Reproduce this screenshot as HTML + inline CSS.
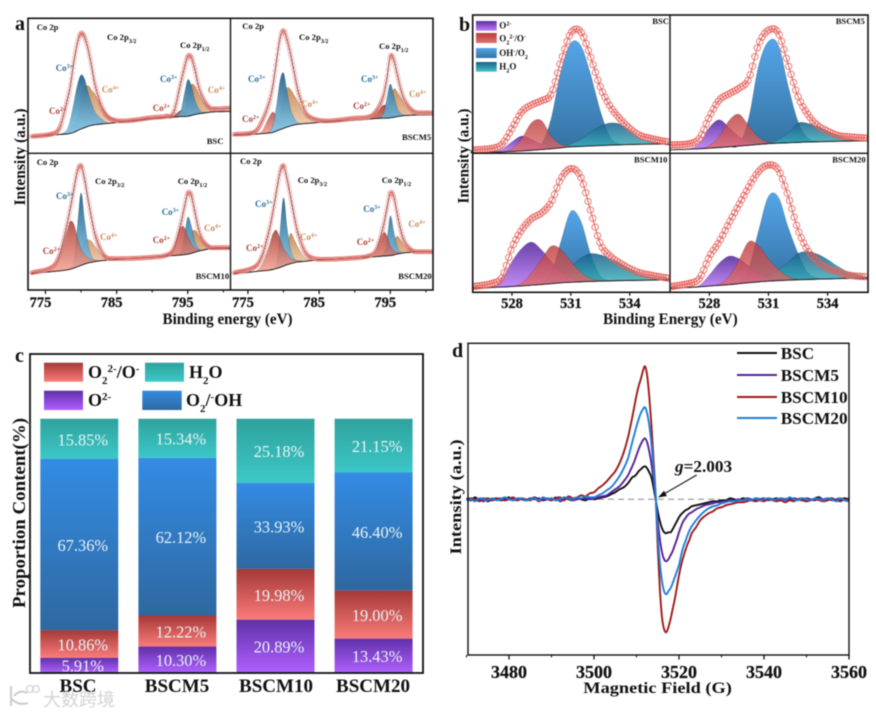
<!DOCTYPE html>
<html lang="en">
<head>
<meta charset="utf-8">
<title>XPS and EPR composite figure</title>
<style>
html,body{margin:0;padding:0;background:#fff;}
#figure{display:block;width:876px;height:715px;filter:blur(0.45px);}
text{font-family:"Liberation Serif","Noto Sans CJK SC",serif;font-weight:bold;fill:#111;}
.pl{font-size:20px;}
.cp{font-size:8.6px;}
.ion{font-size:9px;}
.blue{fill:#2f6f96;}
.tan{fill:#c98d5a;}
.red{fill:#a8453a;}
.smp{font-size:8.6px;}
.tl{font-size:14.5px;stroke:#111;stroke-width:.25px;}
.tld{font-size:18px;stroke:#111;stroke-width:.25px;}
.ttl{font-size:16px;}
.lg{font-size:9px;}
.lc{font-size:18px;}
.ld{font-size:17.2px;}
</style>
</head>
<body>
<svg id="figure" xmlns="http://www.w3.org/2000/svg" width="876" height="715" viewBox="0 0 876 715">
<defs>
<linearGradient id="gCo2" x1="0" y1="0" x2="0" y2="1"><stop offset="0" stop-color="#a83a30"/><stop offset="1" stop-color="#f8a595"/></linearGradient>
<linearGradient id="gCo3" x1="0" y1="0" x2="0" y2="1"><stop offset="0" stop-color="#1f5f8a"/><stop offset="1" stop-color="#8ad0f0"/></linearGradient>
<linearGradient id="gCo4" x1="0" y1="0" x2="0" y2="1"><stop offset="0" stop-color="#c4844c"/><stop offset="1" stop-color="#f8dcc6"/></linearGradient>
<linearGradient id="gbO2" x1="0" y1="0" x2="0" y2="1"><stop offset="0" stop-color="#5a2fa0"/><stop offset="1" stop-color="#c080f8"/></linearGradient>
<linearGradient id="gbO22" x1="0" y1="0" x2="0" y2="1"><stop offset="0" stop-color="#bd3a3a"/><stop offset="1" stop-color="#e07070"/></linearGradient>
<linearGradient id="gbOH" x1="0" y1="0" x2="0" y2="1"><stop offset="0" stop-color="#55a5ea"/><stop offset="1" stop-color="#33719f"/></linearGradient>
<linearGradient id="gbH2O" x1="0" y1="0" x2="0" y2="1"><stop offset="0" stop-color="#17608c"/><stop offset="1" stop-color="#46c4c4"/></linearGradient>
<linearGradient id="gcO2" x1="0" y1="0" x2="0" y2="1"><stop offset="0" stop-color="#5f30a8"/><stop offset="1" stop-color="#b060ff"/></linearGradient>
<linearGradient id="gcO22" x1="0" y1="0" x2="0" y2="1"><stop offset="0" stop-color="#a53838"/><stop offset="1" stop-color="#fa7c7a"/></linearGradient>
<linearGradient id="gcOH" x1="0" y1="0" x2="0" y2="1"><stop offset="0" stop-color="#338ce4"/><stop offset="1" stop-color="#2f68a0"/></linearGradient>
<linearGradient id="gcH2O" x1="0" y1="0" x2="0" y2="1"><stop offset="0" stop-color="#2fa29c"/><stop offset="1" stop-color="#3cc8c8"/></linearGradient>
</defs>
<rect width="876" height="715" fill="#fff"/>

<g id="panelA"></g>
<g id="panelB"></g>
<g id="panelC"></g>
<g id="panelD"></g>

<!-- panel letters -->
<text class="pl" x="15" y="30">a</text>
<text class="pl" x="459" y="31">b</text>
<text class="pl" x="15" y="362">c</text>
<text class="pl" x="452" y="357">d</text>

<!-- panel a titles -->
<text class="ttl" x="162.5" y="324" textLength="130" lengthAdjust="spacingAndGlyphs">Binding energy (eV)</text>
<text class="ttl" transform="translate(25,157) rotate(-90)" text-anchor="middle" textLength="97" lengthAdjust="spacingAndGlyphs">Intensity (a.u.)</text>

<!-- panel a text: BSC -->
<g>
<text class="cp" x="36.7" y="30">Co 2p</text>
<text class="cp" x="107" y="40">Co 2p<tspan font-size="6" baseline-shift="sub">3/2</tspan></text>
<text class="cp" x="180" y="48">Co 2p<tspan font-size="6" baseline-shift="sub">1/2</tspan></text>
<text class="ion blue" x="55.7" y="71">Co<tspan font-size="6" baseline-shift="super">3+</tspan></text>
<text class="ion tan" x="101.7" y="92.7">Co<tspan font-size="6" baseline-shift="super">4+</tspan></text>
<text class="ion red" x="49" y="114">Co<tspan font-size="6" baseline-shift="super">2+</tspan></text>
<text class="ion blue" x="160" y="82">Co<tspan font-size="6" baseline-shift="super">3+</tspan></text>
<text class="ion tan" x="207.7" y="93">Co<tspan font-size="6" baseline-shift="super">4+</tspan></text>
<text class="ion red" x="152.7" y="111">Co<tspan font-size="6" baseline-shift="super">2+</tspan></text>
<text class="smp" x="206.7" y="144">BSC</text>
</g>
<!-- panel a text: BSCM5 -->
<g>
<text class="cp" x="242.3" y="29">Co 2p</text>
<text class="cp" x="299" y="40">Co 2p<tspan font-size="6" baseline-shift="sub">3/2</tspan></text>
<text class="cp" x="379" y="49">Co 2p<tspan font-size="6" baseline-shift="sub">1/2</tspan></text>
<text class="ion blue" x="248" y="82">Co<tspan font-size="6" baseline-shift="super">3+</tspan></text>
<text class="ion tan" x="301" y="107">Co<tspan font-size="6" baseline-shift="super">4+</tspan></text>
<text class="ion red" x="242" y="122">Co<tspan font-size="6" baseline-shift="super">2+</tspan></text>
<text class="ion blue" x="361" y="82">Co<tspan font-size="6" baseline-shift="super">3+</tspan></text>
<text class="ion tan" x="409" y="97">Co<tspan font-size="6" baseline-shift="super">4+</tspan></text>
<text class="ion red" x="353" y="109">Co<tspan font-size="6" baseline-shift="super">2+</tspan></text>
<text class="smp" x="402" y="140">BSCM5</text>
</g>
<!-- panel a text: BSCM10 -->
<g>
<text class="cp" x="36.7" y="165">Co 2p</text>
<text class="cp" x="95" y="184">Co 2p<tspan font-size="6" baseline-shift="sub">3/2</tspan></text>
<text class="cp" x="177.7" y="184">Co 2p<tspan font-size="6" baseline-shift="sub">1/2</tspan></text>
<text class="ion blue" x="56" y="199">Co<tspan font-size="6" baseline-shift="super">3+</tspan></text>
<text class="ion tan" x="100" y="240">Co<tspan font-size="6" baseline-shift="super">4+</tspan></text>
<text class="ion red" x="42.7" y="254">Co<tspan font-size="6" baseline-shift="super">2+</tspan></text>
<text class="ion blue" x="161.7" y="215">Co<tspan font-size="6" baseline-shift="super">3+</tspan></text>
<text class="ion tan" x="204" y="231">Co<tspan font-size="6" baseline-shift="super">4+</tspan></text>
<text class="ion red" x="152.7" y="243">Co<tspan font-size="6" baseline-shift="super">2+</tspan></text>
<text class="smp" x="195.7" y="279">BSCM10</text>
</g>
<!-- panel a text: BSCM20 -->
<g>
<text class="cp" x="240" y="164">Co 2p</text>
<text class="cp" x="297.7" y="183">Co 2p<tspan font-size="6" baseline-shift="sub">3/2</tspan></text>
<text class="cp" x="381.7" y="183">Co 2p<tspan font-size="6" baseline-shift="sub">1/2</tspan></text>
<text class="ion blue" x="255" y="207">Co<tspan font-size="6" baseline-shift="super">3+</tspan></text>
<text class="ion tan" x="300" y="240">Co<tspan font-size="6" baseline-shift="super">4+</tspan></text>
<text class="ion red" x="246" y="251">Co<tspan font-size="6" baseline-shift="super">2+</tspan></text>
<text class="ion blue" x="363.3" y="212">Co<tspan font-size="6" baseline-shift="super">3+</tspan></text>
<text class="ion tan" x="408.3" y="227">Co<tspan font-size="6" baseline-shift="super">4+</tspan></text>
<text class="ion red" x="356.7" y="245">Co<tspan font-size="6" baseline-shift="super">2+</tspan></text>
<text class="smp" x="398.3" y="279">BSCM20</text>
</g>

<!-- panel b legend and titles -->
<g>
<rect x="476" y="21" width="20.7" height="9.7" fill="url(#gbO2)"/>
<rect x="476" y="33" width="20.7" height="10" fill="url(#gbO22)"/>
<rect x="476" y="48" width="20.7" height="10" fill="url(#gbOH)"/>
<rect x="476" y="62" width="20.7" height="9.7" fill="url(#gbH2O)"/>
<text class="lg" x="499.3" y="28.3">O<tspan font-size="6" baseline-shift="super">2-</tspan></text>
<text class="lg" x="499.3" y="41.7">O<tspan font-size="6" baseline-shift="sub">2</tspan><tspan font-size="6" baseline-shift="super">2-</tspan>/O<tspan font-size="6" baseline-shift="super">-</tspan></text>
<text class="lg" x="499.3" y="56">OH<tspan font-size="6" baseline-shift="super">-</tspan>/O<tspan font-size="6" baseline-shift="sub">2</tspan></text>
<text class="lg" x="499.3" y="69.3">H<tspan font-size="6" baseline-shift="sub">2</tspan>O</text>
</g>
<text class="smp" x="652.3" y="24">BSC</text>
<text class="smp" x="835.7" y="24">BSCM5</text>
<text class="smp" x="634" y="162.3">BSCM10</text>
<text class="smp" x="832.3" y="162.3">BSCM20</text>
<text class="ttl" x="603" y="324" textLength="134.7" lengthAdjust="spacingAndGlyphs">Binding Energy (eV)</text>
<text class="ttl" transform="translate(468.5,156) rotate(-90)" text-anchor="middle" textLength="95" lengthAdjust="spacingAndGlyphs">Intensity (a.u.)</text>

<!-- panel c legend and titles -->
<g>
<rect x="44" y="362.7" width="39" height="19" fill="url(#gcO22)"/>
<rect x="145" y="362.7" width="39" height="19" fill="url(#gcH2O)"/>
<rect x="44" y="390.7" width="39" height="19.3" fill="url(#gcO2)"/>
<rect x="142.3" y="390.7" width="39.4" height="19.3" fill="url(#gcOH)"/>
<text class="lc" x="88" y="378">O<tspan font-size="11" baseline-shift="sub">2</tspan><tspan font-size="11" baseline-shift="super">2-</tspan>/O<tspan font-size="11" baseline-shift="super">-</tspan></text>
<text class="lc" x="189" y="378">H<tspan font-size="11" baseline-shift="sub">2</tspan>O</text>
<text class="lc" x="88" y="406">O<tspan font-size="11" baseline-shift="super">2-</tspan></text>
<text class="lc" x="186" y="406">O<tspan font-size="11" baseline-shift="sub">2</tspan>/<tspan font-size="11" baseline-shift="super">-</tspan>OH</text>
</g>
<text class="lc" transform="translate(25,513) rotate(-90)" text-anchor="middle" textLength="190" lengthAdjust="spacingAndGlyphs">Proportion Content(%)</text>

<!-- panel d legend and annotation -->
<g>
<line x1="737" y1="353" x2="777" y2="353" stroke="#111" stroke-width="2"/>
<line x1="737" y1="375" x2="777" y2="375" stroke="#5a1f9a" stroke-width="2"/>
<line x1="737" y1="397" x2="777" y2="397" stroke="#9e1b1b" stroke-width="2"/>
<line x1="737" y1="418" x2="777" y2="418" stroke="#1f7fd8" stroke-width="2"/>
<text class="ld" x="780.7" y="359">BSC</text>
<text class="ld" x="780.7" y="381">BSCM5</text>
<text class="ld" x="780.7" y="403">BSCM10</text>
<text class="ld" x="780.7" y="424">BSCM20</text>
</g>
<text class="ld" x="675" y="472"><tspan font-style="italic">g</tspan>=2.003</text>
<line x1="696.7" y1="475" x2="661" y2="495.7" stroke="#111" stroke-width="1.1"/>
<polygon points="658,497.5 664,490.7 667,496" fill="#111"/>
<text class="ttl" x="583.3" y="693" textLength="148.5" lengthAdjust="spacingAndGlyphs" font-size="18">Magnetic Field (G)</text>
<text class="ttl" transform="translate(461,497) rotate(-90)" text-anchor="middle" textLength="115" lengthAdjust="spacingAndGlyphs">Intensity (a.u.)</text>

<!-- watermark -->
<g opacity="0.9">
<path d="M11 686 L11 706 M11 698 Q17 706 28 703 M14 696 Q20 689 27 693" fill="none" stroke="#c8c8c8" stroke-width="2"/>
<circle cx="30" cy="689" r="3.4" fill="none" stroke="#cfcfcf" stroke-width="1.3"/>
<circle cx="36" cy="689" r="3.4" fill="none" stroke="#cfcfcf" stroke-width="1.3"/>
<text x="43" y="706" font-size="18" style="fill:#d0d0d0;font-family:'Noto Sans CJK SC','Liberation Sans',sans-serif;font-weight:400;">大数跨境</text>
</g>
</svg>

<script>
// ---- Panel a data: Co 2p XPS (binding energy in eV, intensity as % of sub-panel height) ----
const aEnergy = [773,776,777,778,778.5,779,779.5,780,780.5,781,781.5,782,783,784,786,790,792,793,794,794.5,795,795.5,796,796.5,797,798,799,801];
const aTicks = [775,785,795];
const aMinorTicks = [780,790,800];
const aBscEnvelope = [12.5,14.5,19,38,50,68,82,89,86,77,64,50,33,26,24,26.5,27.5,30,52,63,72,71,62,50,42,34,33,33.5];
const aBscBackground = [12.3,13.5,14,14.3,14.8,15.5,16.8,18,19,20,20.7,21.2,21.8,22.2,23.5,25.5,26.5,26.8,27.2,27.2,27.5,28,28.7,29.3,29.6,30.4,30.8,31];
const aBscCo2 = [0,0,0,2,5,6,3,1,0,0,0,0,0,0,0,0,0,1,4.5,4,1.5,0,0,0,0,0,0,0];
const aBscCo3 = [0,0,0,3,10,22,34,40,36,25,16,9,3,0,0,0,0,0,4,16,27,22,11,4,1,0,0,0];
const aBscCo4 = [0,0,0,0,0,2,10,24,31,30,26,22,12,5,0,0,0,0,0,3,16,23,21,15,10,3,0,0];
const aBscm5Envelope = [14,16,24,38,50,68,85,91,84,73,60,47,31,26,24,26,27,31,42,55,72,69,58,47,39,32,30,30];
const aBscm5Background = [13.5,14.2,14.6,15,15.5,16.5,17.5,18.5,19.5,20.3,21,21.5,22,22.4,23.3,24.5,25.3,25.8,26,26,26.3,26.7,27.2,27.6,28,28.2,28.4,28.5];
const aBscm5Co2 = [0,0,2,12,15,11,5,1.5,0,0,0,0,0,0,0,0,0.5,4,9.5,9,4,1,0,0,0,0,0,0];
const aBscm5Co3 = [0,0,0,1,5,18,36,41,26,12,5,1,0,0,0,0,0,0,3,14,25,16,6,2,0,0,0,0];
const aBscm5Co4 = [0,0,0,0,0,1,10,24,29,27,22,17,7,2,0,0,0,0,0,3,14,21,18,13,8,2,0,0];
const aBscm10Envelope = [12.5,17,26,47,60,74,87,91,81,66,52,40,27,23,23,24,25.5,30,48,60,71,69,57,45,37,31.5,31,31];
const aBscm10Background = [12,13.5,14,14.7,15.2,16,17,18,19,19.8,20.3,20.8,21.5,22,22.8,24,24.8,25.2,25.6,25.8,26.2,26.8,27.6,28.4,29,30,30.3,30.5];
const aBscm10Co2 = [0,2,10,28,35,32,21,12,7,4,2,1,0,0,0,0,0.5,5,20,20,13,7,3,1,0,0,0,0];
const aBscm10Co3 = [0,0,0,0,1,6,30,53,32,13,4,1,0,0,0,0,0,0,2,13,27,20,8,2,0,0,0,0];
const aBscm10Co4 = [0,0,0,0,0,0,2,9,17,17,15,11,4,1,0,0,0,0,0,1,7,15,16,12,7,1,0,0];
const aBscm20Envelope = [12.5,17,25,44,57,72,86,91,81,68,54,42,28,23.5,22.5,23.5,25,29,46,59,71,68,55,43,35,29,28,28];
const aBscm20Background = [12,13.5,14,14.5,15,15.7,16.5,17.5,18.5,19.3,20,20.5,21,21.5,22.3,23.5,24,24.4,24.8,25,25.2,25.6,26.3,26.8,27.2,27.6,28,28];
const aBscm20Co2 = [0,0,5,18,26,28,21,13,8,4,2,1,0,0,0,0,0,3,17,15,7,3,1,0,0,0,0,0];
const aBscm20Co3 = [0,0,0,0,0,3,26,50,27,10,3,1,0,0,0,0,0,0,1,10,29,17,5,1,0,0,0,0];
const aBscm20Co4 = [0,0,0,0,0,0,0,3,14,22,17,11,3,0.5,0,0,0,0,0,0,4,10,13,9,5,1,0,0];

// ---- Panel b data: O 1s XPS ----
const bEnergy = [526,527,527.5,528,528.5,529,529.5,530,530.5,531,531.5,532,532.5,533,533.5,534,534.5,535,536];
const bTicks = [528,531,534];
const bBscEnvelope = [2.4,3.6,6.7,18,30,35,38,43,67,87,88,70,48,34,25,18,13,11,8];
const bBscBackground = [0.5,0.8,1,1.3,1.7,2.2,2.7,3.3,4,4.7,5,5.3,5.6,5.9,6.1,6.3,6.5,6.6,6.8];
const bBscO2 = [0,0,2,7,10.8,8,4,1.5,0.5,0,0,0,0,0,0,0,0,0,0];
const bBscO22 = [0,0,0,2,9,20,21,9,2.5,0.5,0,0,0,0,0,0,0,0,0];
const bBscOH = [0,0,0,0,0,0,4,22,56,75,73,52,25,6,1,0,0,0,0];
const bBscH2O = [0,0,0,0,0,0,0,0,0.5,2,5,10,14,16,15,10.5,5,2,0];
const bBscm5Envelope = [6,7,11,26.5,38.5,43,47,54,79,89,87,64,41,28,20,16,13,12,11];
const bBscm5Background = [2.5,3,3.3,3.7,4.2,4.7,5.2,5.8,6.4,7,7.3,7.6,7.9,8.1,8.3,8.5,8.7,8.8,9];
const bBscm5O2 = [0,0.5,4,15,20,14,7,2.5,0.5,0,0,0,0,0,0,0,0,0,0];
const bBscm5O22 = [0,0,0,2,8,19,23,14,5,1,0,0,0,0,0,0,0,0,0];
const bBscm5OH = [0,0,0,0,0,0,1,20,57,74,71,41,15,3,0.5,0,0,0,0];
const bBscm5H2O = [0,0,0,0,0,0,0,0,0,0.5,2.5,7,14,13.5,11,7.5,4,2,0];
const bBscm10Envelope = [4,6.5,11,32,45,53,57,65,82,89,83,59,35,26,21,17,14,12.5,10];
const bBscm10Background = [3,3.5,3.8,4.2,4.6,5.1,5.6,6.2,6.8,7.2,7.5,7.8,8,8.2,8.4,8.5,8.6,8.7,8.9];
const bBscm10O2 = [0,0,6,18,27,31,25,16,8,3,1,0,0,0,0,0,0,0,0];
const bBscm10O22 = [0,0,0,0,2,9,18,27,24,15,7,2,0.5,0,0,0,0,0,0];
const bBscm10OH = [0,0,0,0,0,0,1,8,30,51,44,20,4,0.5,0,0,0,0,0];
const bBscm10H2O = [0,0,0,0,0,0,0,1,5,11,17,20,19,16,12,8,4.5,2.5,0.5];
const bBscm20Envelope = [4,6.5,10,25.7,36.5,50,63,76,87,91.6,88,69,45,30,22,17,15,12.5,11];
const bBscm20Background = [3,3.5,4,4.5,5,5.5,6.2,6.9,7.5,8,8.4,8.7,9,9.2,9.4,9.6,9.8,10,10];
const bBscm20O2 = [0,0,1,8,16,20.5,18,12,6,2,0.5,0,0,0,0,0,0,0,0];
const bBscm20O22 = [0,0,0,0,1,6,17,29.5,26,16,8,2.5,0.5,0,0,0,0,0,0];
const bBscm20OH = [0,0,0,0,0,0,1,11,37,61,60,38,19,5,1,0,0,0,0];
const bBscm20H2O = [0,0,0,0,0,0,0,0,1,3.5,8,13,19,20,18,14,9,5,1];

// ---- Panel c data: proportion content (%) ----
const cCategories = ["BSC","BSCM5","BSCM10","BSCM20"];
const cO2 = [5.91,10.30,20.89,13.43];
const cO22 = [10.86,12.22,19.98,19.00];
const cOH = [67.36,62.12,33.93,46.40];
const cH2O = [15.85,15.34,25.18,21.15];

// ---- Panel d data: EPR spectra (magnetic field in G, signal in a.u.) ----
const dField = [3470,3471,3472,3473,3474,3475,3476,3477,3478,3479,3480,3481,3482,3483,3484,3485,3486,3487,3488,3489,3490,3491,3492,3493,3494,3495,3496,3497,3498,3499,3500,3501,3502,3503,3504,3505,3506,3507,3508,
3509,3509.5,3510,3510.5,3511,3511.5,3512,3512.5,3513,3513.5,3514,3514.5,3515,3515.5,3516,3516.5,3517,3517.5,3518,3518.5,3519,3519.5,3520,3520.5,3521,3521.5,3522,3522.5,3523,
3524,3525,3526,3527,3528,3529,3530,3531,3532,3533,3534,3535,3536,3537,3538,3539,3540,3541,3542,3543,3544,3545,3546,3547,3548,3549,3550,3551,3552,3553,3554,3555,3556,3557,3558,3559,3560];
const dTicks = [3480,3500,3520,3540,3560];
const dMinorTicks = [3470,3490,3510,3530,3550];
const dBsc = [1,-1,2,-1,1,-2,0,1,-1,0,2,-1,1,0,-1,1,0,1,-1,0,1,-1,0,1,0,-1,1,0,-1,1,0,1,2,3,5,7,10,12,16,
22,23,25,28,30,32,33,31,27,22,12,0,-12,-22,-29,-33,-34,-33,-33,-30,-26,-22,-18,-15,-13,-11,-10,-8.5,-7,
-6,-5,-4,-3,-2,-2,-1,-1,1,0,-1,1,0,-1,1,0,-1,1,0,1,-1,0,1,-1,0,1,0,-1,1,2,-1,0,1,-1,0,1,0];
const dBscm5 = [0,1,-1,0,-2,1,-1,0,1,-1,1,0,-1,1,-1,0,2,0,-1,1,-1,2,-2,0,1,-1,0,1,1,0,1,2,3,4,7,10,13,18,24,
33,38,44,50,55,59,61,57,48,36,20,2,-22,-40,-53,-60,-62,-60,-56,-52,-46,-40,-33,-27,-22,-19,-16,-14,-13,
-10,-8,-6,-5,-4,-3,-3,-2,-1,-1,0,-1,1,0,-1,0,1,-1,0,-1,1,0,-1,1,0,-1,1,0,-1,1,0,1,-1,0,1,-1,-2];
const dBscm10 = [-1,1,0,-2,0,1,-1,1,0,-1,0,2,-1,1,0,-1,1,-2,1,0,-1,1,2,-1,3,1,2,4,3,6,7,11,14,18,23,28,36,47,62,
82,93,104,113,120,128,133,124,103,75,40,5,-48,-90,-118,-130,-133,-128,-120,-110,-100,-88,-76,-66,-58,-51,-45,-40,-34,
-28,-21,-17,-14,-12,-9,-8,-6,-5,-4,-3,-3,-2,-1,-2,-1,-2,0,-1,-2,-1,-3,-1,-2,0,-1,-2,-1,0,-1,-2,-1,0,-1,-2,0,-1];
const dBscm20 = [-1,0,-2,1,0,-1,1,-1,0,2,0,-1,1,1,-1,0,1,-1,2,0,1,-1,0,2,1,0,2,1,3,2,2,4,6,9,12,17,23,31,41,
57,65,73,80,86,90,92,86,74,56,32,4,-35,-64,-82,-92,-95,-92,-89,-84,-78,-72,-66,-56,-48,-42,-36,-31,-27,
-21,-16,-12,-9,-7,-6,-4,-3,-2,-2,-1,-1,0,-1,1,-1,0,1,-1,0,1,-1,2,0,-1,1,0,-1,1,0,-1,1,0,-2,1,-1,-2];

// ---- helpers ----
const SVGNS = 'http://www.w3.org/2000/svg';
function mk(tag, parent){
  const e = document.createElementNS(SVGNS, tag);
  parent.appendChild(e);
  return e;
}
function splineSegments(pts){
  const n = pts.length, m = [], t = [];
  for(let i=0;i<n-1;i++) m.push((pts[i+1][1]-pts[i][1])/((pts[i+1][0]-pts[i][0])||1e-6));
  t[0] = m[0]; t[n-1] = m[n-2];
  for(let i=1;i<n-1;i++){
    // central-difference tangent gives rounded peaks; flat neighbours stay flat
    const flat = Math.abs(m[i-1])<1e-9 || Math.abs(m[i])<1e-9;
    t[i] = flat ? 0 : (pts[i+1][1]-pts[i-1][1])/((pts[i+1][0]-pts[i-1][0])||1e-6);
  }
  let d = '';
  for(let i=0;i<n-1;i++){
    const h = pts[i+1][0]-pts[i][0];
    d += 'C'+(pts[i][0]+h/3).toFixed(2)+','+(pts[i][1]+t[i]*h/3).toFixed(2)+' '+
         (pts[i+1][0]-h/3).toFixed(2)+','+(pts[i+1][1]-t[i+1]*h/3).toFixed(2)+' '+
         pts[i+1][0].toFixed(2)+','+pts[i+1][1].toFixed(2);
  }
  return d;
}
function linePath(pts){
  return 'M'+pts[0][0].toFixed(2)+','+pts[0][1].toFixed(2)+splineSegments(pts);
}
function areaPath(top, bottom){
  const rev = bottom.slice().reverse();
  return linePath(top)+'L'+rev[0][0].toFixed(2)+','+rev[0][1].toFixed(2)+splineSegments(rev)+'Z';
}
function drawFacet(parent, clipId, box, xs, xFn, yFn, envelope, background, comps, circle, name){
  const clip = mk('clipPath', parent);
  clip.setAttribute('id', clipId);
  const cr = mk('rect', clip);
  cr.setAttribute('x', box.x); cr.setAttribute('y', box.y);
  cr.setAttribute('width', box.w); cr.setAttribute('height', box.h);
  const g = mk('g', parent);
  g.setAttribute('clip-path', 'url(#'+clipId+')');
  
  
  const bgPts = xs.map((x,i)=>[xFn(x), yFn(background[i])]);
  comps.forEach(c=>{
    const top = xs.map((x,i)=>[xFn(x), yFn(background[i]+c.values[i])]);
    const p = mk('path', g);
    p.setAttribute('d', areaPath(top, bgPts));
    p.setAttribute('fill', 'url(#'+c.grad+')');
    p.setAttribute('fill-opacity', c.op);
    p.setAttribute('stroke', '#223');
    p.setAttribute('stroke-opacity', '0.45');
    p.setAttribute('stroke-width', '0.4');
    
    
  });
  const bl = mk('path', g);
  bl.setAttribute('d', linePath(bgPts));
  bl.setAttribute('fill', 'none');
  bl.setAttribute('stroke', '#1a1a1a');
  bl.setAttribute('stroke-width', '0.9');
  
  
  const env = mk('path', g);
  env.setAttribute('d', linePath(xs.map((x,i)=>[xFn(x), yFn(envelope[i])])));
  env.setAttribute('fill', 'none');
  env.setAttribute('stroke', circle.line);
  env.setAttribute('stroke-width', circle.lw);
  
  
  const len = env.getTotalLength();
  const cg = mk('g', g);
  
  
  // raw data are sampled at a uniform energy step along the envelope
  let nextX = xFn(xs[0]);
  for(let s=0; s<=len; s+=0.35){
    const pt = env.getPointAtLength(s);
    if(pt.x < nextX) continue;
    nextX = pt.x + circle.dx;
    const c = mk('circle', cg);
    c.setAttribute('cx', pt.x.toFixed(2));
    c.setAttribute('cy', pt.y.toFixed(2));
    c.setAttribute('r', circle.r);
    c.setAttribute('fill', 'none');
    c.setAttribute('stroke', circle.color);
    c.setAttribute('stroke-width', circle.sw);
    
    
  }
}
function drawTick(parent, x, y0, len, w, name){
  const l = mk('line', parent);
  l.setAttribute('x1', x); l.setAttribute('x2', x);
  l.setAttribute('y1', y0); l.setAttribute('y2', y0+len);
  l.setAttribute('stroke', '#111');
  l.setAttribute('stroke-width', w);
  
  
}
function drawFrame(parent, x, y, w, h, sw, name){
  const r = mk('rect', parent);
  r.setAttribute('x', x); r.setAttribute('y', y);
  r.setAttribute('width', w); r.setAttribute('height', h);
  r.setAttribute('fill', 'none');
  r.setAttribute('stroke', '#111');
  r.setAttribute('stroke-width', sw);
  
  
}

// ---- Panel a ----
(function(){
  const root = document.getElementById('panelA');
  const colX = [28, 230.5], colW = 202.5, rowY = [18.3, 153.3], rowH = [135, 136.7];
  const dom0 = 772.55, dom1 = 801;
  const facets = [
    {n:'a-bsc', c:0, r:0, env:aBscEnvelope, bg:aBscBackground, co2:aBscCo2, co3:aBscCo3, co4:aBscCo4},
    {n:'a-bscm5', c:1, r:0, env:aBscm5Envelope, bg:aBscm5Background, co2:aBscm5Co2, co3:aBscm5Co3, co4:aBscm5Co4},
    {n:'a-bscm10', c:0, r:1, env:aBscm10Envelope, bg:aBscm10Background, co2:aBscm10Co2, co3:aBscm10Co3, co4:aBscm10Co4},
    {n:'a-bscm20', c:1, r:1, env:aBscm20Envelope, bg:aBscm20Background, co2:aBscm20Co2, co3:aBscm20Co3, co4:aBscm20Co4}
  ];
  facets.forEach(f=>{
    const xFn = e => colX[f.c] + (e-dom0)/(dom1-dom0)*colW;
    const yFn = v => rowY[f.r] + rowH[f.r] - v/100*rowH[f.r];
    const front = f.r===1
      ? [{id:'co4',grad:'gCo4',values:f.co4,op:.9},{id:'co3',grad:'gCo3',values:f.co3,op:.92},{id:'co2',grad:'gCo2',values:f.co2,op:.85}]
      : [{id:'co4',grad:'gCo4',values:f.co4,op:.9},{id:'co2',grad:'gCo2',values:f.co2,op:.9},{id:'co3',grad:'gCo3',values:f.co3,op:.92}];
    drawFacet(root, 'clip-'+f.n, {x:colX[f.c], y:rowY[f.r], w:colW, h:rowH[f.r]}, aEnergy, xFn, yFn, f.env, f.bg, front,
      {r:2.1, dx:0.75, color:'#e8746c', sw:0.5, line:'#7a3a3a', lw:0.9}, f.n);
  });
  [0,1].forEach(c=>{
    const xFn = e => colX[c] + (e-dom0)/(dom1-dom0)*colW;
    aTicks.forEach(t=>{
      drawTick(root, xFn(t), 290, 4, 1.2, 'a-x-major-tick');
      const lab = mk('text', root);
      lab.setAttribute('class', 'tl');
      lab.setAttribute('x', xFn(t)-5);
      lab.setAttribute('y', 307);
      lab.setAttribute('text-anchor', 'middle');
      
      
      lab.textContent = t;
    });
    aMinorTicks.forEach(t=>{
      drawTick(root, xFn(t), 290, 2.5, 1, 'a-x-minor-tick');
    });
  });
  drawFrame(root, 28, 18.3, 405, 271.7, 1.6, 'a-frame');
  const v = mk('line', root);
  v.setAttribute('x1', 230.5); v.setAttribute('x2', 230.5);
  v.setAttribute('y1', 18.3); v.setAttribute('y2', 290);
  v.setAttribute('stroke', '#111'); v.setAttribute('stroke-width', 1.4);
  
  
  const h = mk('line', root);
  h.setAttribute('x1', 28); h.setAttribute('x2', 433);
  h.setAttribute('y1', 153.3); h.setAttribute('y2', 153.3);
  h.setAttribute('stroke', '#111'); h.setAttribute('stroke-width', 1.4);
  
  
})();

// ---- Panel b ----
(function(){
  const root = document.getElementById('panelB');
  const colX = [472.7, 670], colW = [197.3, 198], rowY = [15, 153.3], rowH = [138.3, 139];
  const dom0 = 526, dom1 = 536.05;
  const facets = [
    {n:'b-bsc', c:0, r:0, env:bBscEnvelope, bg:bBscBackground, o2:bBscO2, o22:bBscO22, oh:bBscOH, h2o:bBscH2O},
    {n:'b-bscm5', c:1, r:0, env:bBscm5Envelope, bg:bBscm5Background, o2:bBscm5O2, o22:bBscm5O22, oh:bBscm5OH, h2o:bBscm5H2O},
    {n:'b-bscm10', c:0, r:1, env:bBscm10Envelope, bg:bBscm10Background, o2:bBscm10O2, o22:bBscm10O22, oh:bBscm10OH, h2o:bBscm10H2O},
    {n:'b-bscm20', c:1, r:1, env:bBscm20Envelope, bg:bBscm20Background, o2:bBscm20O2, o22:bBscm20O22, oh:bBscm20OH, h2o:bBscm20H2O}
  ];
  facets.forEach(f=>{
    const xFn = e => colX[f.c] + (e-dom0)/(dom1-dom0)*colW[f.c];
    const yFn = v => rowY[f.r] + rowH[f.r] - v/100*rowH[f.r];
    drawFacet(root, 'clip-'+f.n, {x:colX[f.c], y:rowY[f.r], w:colW[f.c], h:rowH[f.r]}, bEnergy, xFn, yFn, f.env, f.bg,
      [{id:'oh',grad:'gbOH',values:f.oh,op:1},{id:'h2o',grad:'gbH2O',values:f.h2o,op:.85},{id:'o2',grad:'gbO2',values:f.o2,op:.9},{id:'o22',grad:'gbO22',values:f.o22,op:.8}],
      {r:3.2, dx:2.3, color:'#e8605a', sw:0.8, line:'#d9534f', lw:0.9}, f.n);
  });
  [0,1].forEach(c=>{
    const xFn = e => colX[c] + (e-dom0)/(dom1-dom0)*colW[c];
    bTicks.forEach(t=>{
      drawTick(root, xFn(t), 292.3, 3.5, 1.2, 'b-x-tick');
      const lab = mk('text', root);
      lab.setAttribute('class', 'tl');
      lab.setAttribute('x', xFn(t));
      lab.setAttribute('y', 308);
      lab.setAttribute('text-anchor', 'middle');
      
      
      lab.textContent = t;
    });
  });
  drawFrame(root, 472.7, 15, 395.3, 277.3, 1.6, 'b-frame');
  const v = mk('line', root);
  v.setAttribute('x1', 670); v.setAttribute('x2', 670);
  v.setAttribute('y1', 15); v.setAttribute('y2', 292.3);
  v.setAttribute('stroke', '#111'); v.setAttribute('stroke-width', 1.4);
  
  
  const h = mk('line', root);
  h.setAttribute('x1', 472.7); h.setAttribute('x2', 868);
  h.setAttribute('y1', 153.3); h.setAttribute('y2', 153.3);
  h.setAttribute('stroke', '#111'); h.setAttribute('stroke-width', 1.4);
  
  
})();

// ---- Panel c ----
(function(){
  const root = document.getElementById('panelC');
  const barLeft = 40.3, barStep = 98.1, barW = 78;
  const y0 = 672.7, yUnit = 2.54;
  const yS = v => y0 - v*yUnit;
  const catX = [78,177,276,373];
  const stack = [
    {id:'o2', grad:'gcO2', vals:cO2},
    {id:'o22', grad:'gcO22', vals:cO22},
    {id:'oh', grad:'gcOH', vals:cOH},
    {id:'h2o', grad:'gcH2O', vals:cH2O}
  ];
  cCategories.forEach((cat,i)=>{
    let acc = 0;
    const x = barLeft + i*barStep;
    stack.forEach(s=>{
      const v = s.vals[i];
      const r = mk('rect', root);
      r.setAttribute('x', x);
      r.setAttribute('y', yS(acc+v));
      r.setAttribute('width', barW);
      r.setAttribute('height', v*yUnit);
      r.setAttribute('fill', 'url(#'+s.grad+')');
      
      
      const t = mk('text', root);
      t.setAttribute('x', x+barW/2+3.5);
      t.setAttribute('y', yS(acc+v/2)+6.5);
      t.setAttribute('text-anchor', 'middle');
      t.setAttribute('font-size', '16.4');
      t.setAttribute('style', 'font-weight:normal;fill:#e8f4f4;');
      
      
      t.textContent = v.toFixed(2)+'%';
      acc += v;
    });
    const lab = mk('text', root);
    lab.setAttribute('x', catX[i]);
    lab.setAttribute('y', 692);
    lab.setAttribute('text-anchor', 'middle');
    lab.setAttribute('font-size', '19');
    
    
    lab.textContent = cat;
  });
  drawFrame(root, 30, 354, 393, 319, 1.8, 'c-frame');
})();

// ---- Panel d ----
(function(){
  const root = document.getElementById('panelD');
  const xS = f => 509 + (f-3480)*4.25;
  const yS = v => 499.3 - v;
  const dash = mk('line', root);
  dash.setAttribute('x1', 468); dash.setAttribute('x2', 720);
  dash.setAttribute('y1', yS(0)); dash.setAttribute('y2', yS(0));
  dash.setAttribute('stroke', '#888');
  dash.setAttribute('stroke-width', 1);
  dash.setAttribute('stroke-dasharray', '6 4');
  
  
  const series = [
    {id:'bsc', vals:dBsc, col:'#111111'},
    {id:'bscm5', vals:dBscm5, col:'#5a1f9a'},
    {id:'bscm10', vals:dBscm10, col:'#9e1b1b'},
    {id:'bscm20', vals:dBscm20, col:'#1f7fd8'}
  ];
  series.forEach(s=>{
    const p = mk('path', root);
    p.setAttribute('d', linePath(dField.map((f,i)=>[xS(f), yS(s.vals[i])])));
    p.setAttribute('fill', 'none');
    p.setAttribute('stroke', s.col);
    p.setAttribute('stroke-width', '1.9');
    p.setAttribute('stroke-linejoin', 'round');
    
    
  });
  dTicks.forEach(t=>{
    drawTick(root, xS(t), 655, 4.5, 1.3, 'd-x-major-tick');
    const lab = mk('text', root);
    lab.setAttribute('class', 'tld');
    lab.setAttribute('x', xS(t));
    lab.setAttribute('y', 678);
    lab.setAttribute('text-anchor', 'middle');
    
    
    lab.textContent = t;
  });
  dMinorTicks.forEach(t=>{
    drawTick(root, xS(t), 655, 2.5, 1, 'd-x-minor-tick');
  });
  drawFrame(root, 468, 343.3, 381, 311.7, 1.4, 'd-frame');
})();
</script>
</body>
</html>
